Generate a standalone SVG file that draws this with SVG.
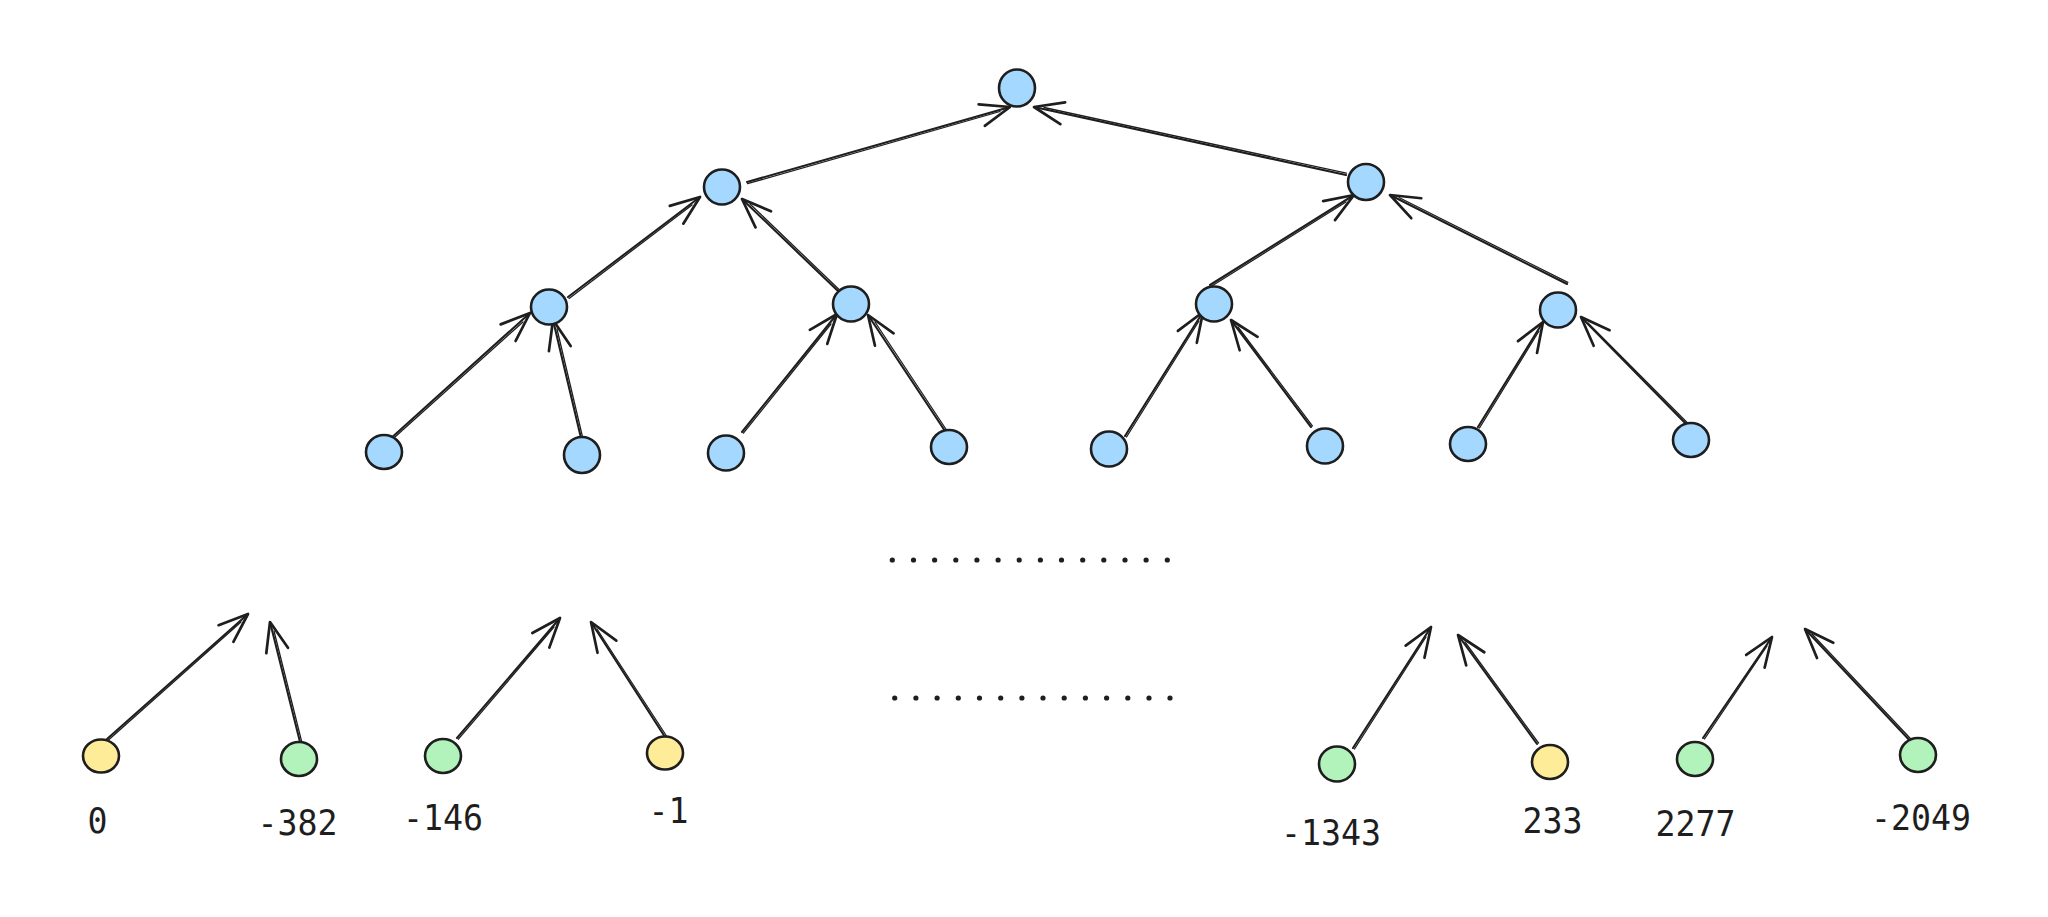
<svg xmlns="http://www.w3.org/2000/svg" width="2048" height="917" viewBox="0 0 2048 917">
<defs>
<style>
.n{stroke:#1e1e1e;stroke-width:2.6}
.b{fill:#a5d8ff}
.y{fill:#ffec99}
.g{fill:#b2f2bb}
.c{fill:none;stroke:#1e1e1e;stroke-width:2.1;stroke-linecap:round}
.c2{fill:none;stroke:#1e1e1e;stroke-width:1.3;stroke-linecap:round}
.t{font-family:"DejaVu Sans Mono","Liberation Mono",monospace;font-size:36px;fill:#1e1e1e;text-anchor:middle}
.d{fill:#1e1e1e}
</style>
<marker id="ah" markerUnits="userSpaceOnUse" markerWidth="40" markerHeight="40" refX="0" refY="0" viewBox="-30 -15 34 30" orient="auto" overflow="visible">
<path d="M-25,-9.5 L0,0 L-25,9.5" fill="none" stroke="#1e1e1e" stroke-width="2.3" stroke-linecap="round" stroke-linejoin="round"/>
</marker>
</defs>
<rect width="2048" height="917" fill="#ffffff"/>

<g id="connectors">
<path class="c" d="M747,182 L1010,107" marker-end="url(#ah)"/><path class="c2" d="M747.5,183.7 L1000,111.5"/>
<path class="c" d="M1346,175 L1034,107" marker-end="url(#ah)"/><path class="c2" d="M1346.4,173.2 L1044,107.5"/>
<path class="c" d="M568,297 L700,197" marker-end="url(#ah)"/><path class="c2" d="M569.1,298.4 L692,205"/>
<path class="c" d="M838,291 L742,199" marker-end="url(#ah)"/><path class="c2" d="M839.3,289.7 L750,204"/>
<path class="c" d="M1210,285 L1354,195" marker-end="url(#ah)"/><path class="c2" d="M1211,286.5 L1346,202"/>
<path class="c" d="M1567,284 L1390,195" marker-end="url(#ah)"/><path class="c2" d="M1567.8,282.4 L1399,197.5"/>
<path class="c" d="M389,440 L530,313" marker-end="url(#ah)"/><path class="c2" d="M390.2,441.3 L523,322"/>
<path class="c" d="M581,438 L553,320" marker-end="url(#ah)"/><path class="c2" d="M582.7,437.6 L557,329"/>
<path class="c" d="M742,432 L837,314" marker-end="url(#ah)"/><path class="c2" d="M743.4,433.1 L831,324"/>
<path class="c" d="M945,431 L868,315" marker-end="url(#ah)"/><path class="c2" d="M946.5,430 L875,322"/>
<path class="c" d="M1125,436 L1203,312" marker-end="url(#ah)"/><path class="c2" d="M1126.5,437 L1199,321"/>
<path class="c" d="M1311,427 L1231,320" marker-end="url(#ah)"/><path class="c2" d="M1312.4,425.9 L1238,327"/>
<path class="c" d="M1478,427 L1543,322" marker-end="url(#ah)"/><path class="c2" d="M1479.5,428 L1539,331"/>
<path class="c" d="M1693,431 L1581,317" marker-end="url(#ah)"/><path class="c2" d="M1694.3,429.7 L1588,323"/>
<path class="c" d="M107,739 L248,614" marker-end="url(#ah)"/><path class="c2" d="M108.2,740.3 L241,622"/>
<path class="c" d="M300,742 L270,622" marker-end="url(#ah)"/><path class="c2" d="M301.7,741.6 L274,631"/>
<path class="c" d="M457,738 L560,618" marker-end="url(#ah)"/><path class="c2" d="M458.4,739.2 L554,627"/>
<path class="c" d="M665,737 L591,622" marker-end="url(#ah)"/><path class="c2" d="M666.5,736 L597,629"/>
<path class="c" d="M1353,748 L1431,627" marker-end="url(#ah)"/><path class="c2" d="M1354.5,749 L1426,637"/>
<path class="c" d="M1537,744 L1458,635" marker-end="url(#ah)"/><path class="c2" d="M1538.5,743 L1465,642"/>
<path class="c" d="M1703,738 L1772,637" marker-end="url(#ah)"/><path class="c2" d="M1704.5,739 L1767,646"/>
<path class="c" d="M1914,745 L1805,629" marker-end="url(#ah)"/><path class="c2" d="M1915.3,743.8 L1812,634"/>
</g>

<g id="root"><ellipse class="n b" cx="1017" cy="88" rx="18" ry="18.5"/></g>
<g id="l2-left"><ellipse class="n b" cx="722" cy="187" rx="18" ry="17.5"/></g>
<g id="l2-right"><ellipse class="n b" cx="1366" cy="182" rx="18" ry="18"/></g>
<g id="l3-a"><ellipse class="n b" cx="549" cy="307" rx="18" ry="17.5"/></g>
<g id="l3-b"><ellipse class="n b" cx="851" cy="304" rx="18" ry="17.5"/></g>
<g id="l3-c"><ellipse class="n b" cx="1214" cy="304" rx="18" ry="17.5"/></g>
<g id="l3-d"><ellipse class="n b" cx="1558" cy="310" rx="18" ry="17.5"/></g>
<g id="l4-a"><ellipse class="n b" cx="384" cy="452" rx="18" ry="17"/></g>
<g id="l4-b"><ellipse class="n b" cx="582" cy="455" rx="18" ry="18"/></g>
<g id="l4-c"><ellipse class="n b" cx="726" cy="453" rx="18" ry="17.5"/></g>
<g id="l4-d"><ellipse class="n b" cx="949" cy="447" rx="18" ry="17"/></g>
<g id="l4-e"><ellipse class="n b" cx="1109" cy="449" rx="18" ry="17.5"/></g>
<g id="l4-f"><ellipse class="n b" cx="1325" cy="446" rx="18" ry="17.5"/></g>
<g id="l4-g"><ellipse class="n b" cx="1468" cy="444" rx="18" ry="17"/></g>
<g id="l4-h"><ellipse class="n b" cx="1691" cy="440" rx="18" ry="17"/></g>

<g id="leaf-0"><ellipse class="n y" cx="101" cy="756" rx="18" ry="16.5"/><text class="t" x="97.5" y="833" textLength="20" lengthAdjust="spacingAndGlyphs">0</text></g>
<g id="leaf-382"><ellipse class="n g" cx="299" cy="759" rx="18" ry="17"/><text class="t" x="297.5" y="835" textLength="80" lengthAdjust="spacingAndGlyphs">-382</text></g>
<g id="leaf-146"><ellipse class="n g" cx="443" cy="756" rx="18" ry="17"/><text class="t" x="443" y="830" textLength="80" lengthAdjust="spacingAndGlyphs">-146</text></g>
<g id="leaf-1"><ellipse class="n y" cx="665" cy="753" rx="18" ry="16.5"/><text class="t" x="668.5" y="823" textLength="40" lengthAdjust="spacingAndGlyphs">-1</text></g>
<g id="leaf-1343"><ellipse class="n g" cx="1337" cy="764" rx="18" ry="17.5"/><text class="t" x="1331" y="845" textLength="100" lengthAdjust="spacingAndGlyphs">-1343</text></g>
<g id="leaf-233"><ellipse class="n y" cx="1550" cy="762" rx="18" ry="17"/><text class="t" x="1552.5" y="833" textLength="60" lengthAdjust="spacingAndGlyphs">233</text></g>
<g id="leaf-2277"><ellipse class="n g" cx="1695" cy="759" rx="18" ry="17"/><text class="t" x="1695.5" y="836" textLength="80" lengthAdjust="spacingAndGlyphs">2277</text></g>
<g id="leaf-2049"><ellipse class="n g" cx="1918" cy="755" rx="18" ry="17"/><text class="t" x="1921" y="830" textLength="100" lengthAdjust="spacingAndGlyphs">-2049</text></g>

<g id="dots-top">
<circle class="d" cx="892.3" cy="560" r="2.6"/><circle class="d" cx="913.5" cy="560" r="2.6"/><circle class="d" cx="934.6" cy="560" r="2.6"/><circle class="d" cx="955.8" cy="560" r="2.6"/><circle class="d" cx="976.9" cy="560" r="2.6"/><circle class="d" cx="998.1" cy="560" r="2.6"/><circle class="d" cx="1019.2" cy="560" r="2.6"/><circle class="d" cx="1040.4" cy="560" r="2.6"/><circle class="d" cx="1061.5" cy="560" r="2.6"/><circle class="d" cx="1082.7" cy="560" r="2.6"/><circle class="d" cx="1103.8" cy="560" r="2.6"/><circle class="d" cx="1125" cy="560" r="2.6"/><circle class="d" cx="1146.1" cy="560" r="2.6"/><circle class="d" cx="1167.3" cy="560" r="2.6"/>
</g>
<g id="dots-bottom">
<circle class="d" cx="894.7" cy="698" r="2.6"/><circle class="d" cx="915.9" cy="698" r="2.6"/><circle class="d" cx="937.1" cy="698" r="2.6"/><circle class="d" cx="958.3" cy="698" r="2.6"/><circle class="d" cx="979.5" cy="698" r="2.6"/><circle class="d" cx="1000.7" cy="698" r="2.6"/><circle class="d" cx="1021.9" cy="698" r="2.6"/><circle class="d" cx="1043" cy="698" r="2.6"/><circle class="d" cx="1064.2" cy="698" r="2.6"/><circle class="d" cx="1085.4" cy="698" r="2.6"/><circle class="d" cx="1106.6" cy="698" r="2.6"/><circle class="d" cx="1127.8" cy="698" r="2.6"/><circle class="d" cx="1149" cy="698" r="2.6"/><circle class="d" cx="1170" cy="698" r="2.6"/>
</g>
</svg>
